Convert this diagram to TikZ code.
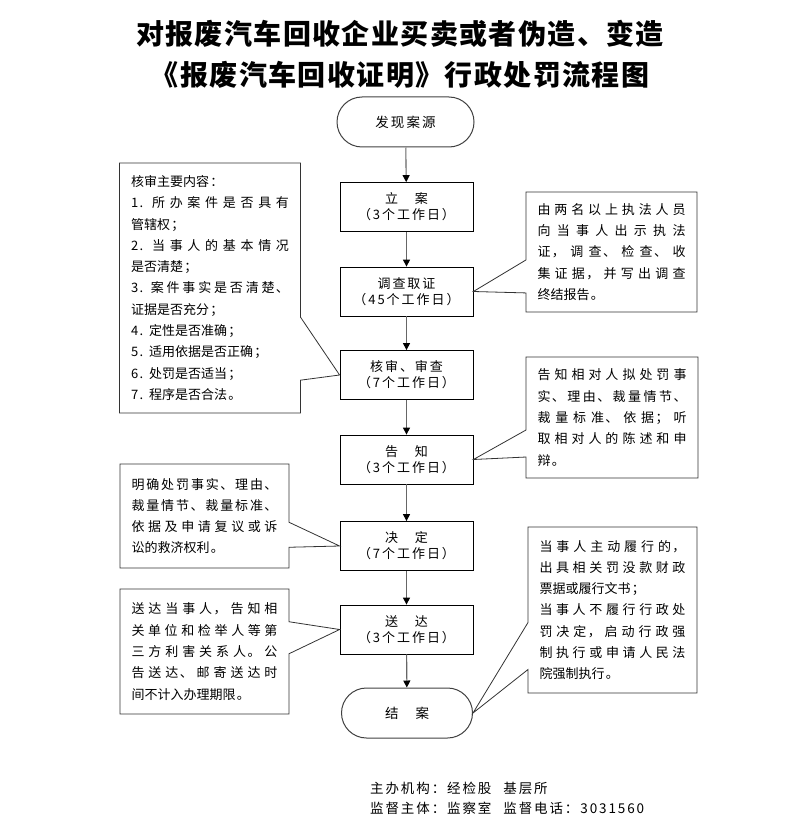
\documentclass[tikz,border=0pt]{standalone}
\usepackage{fontspec}
\setmainfont{Noto Sans CJK SC}
\newfontfamily\cjk[LetterSpace=11]{Noto Sans CJK SC}
\newfontfamily\stepfont[LetterSpace=15]{Noto Sans CJK SC}
\newfontfamily\footfont[LetterSpace=14]{Noto Sans CJK SC}
\newfontfamily\titlefont[LetterSpace=5]{Noto Sans CJK SC}
\usetikzlibrary{arrows.meta,shapes.misc,shapes.callouts}
\XeTeXlinebreaklocale "zh"
\XeTeXlinebreakskip=0pt plus 10pt\relax
\newcommand\titlestyle{\titlefont\bfseries\fontsize{28}{41}\selectfont}
\newcommand\stepstyle{\stepfont\fontsize{13}{16}\selectfont}
\newcommand\termstyle{\stepfont\fontsize{13.5}{16}\selectfont}
\newcommand\notestyle{\cjk\fontsize{13}{21.3}\selectfont}
\newcommand\footstyle{\footfont\fontsize{13.5}{20}\selectfont}

\begin{document}
\begin{tikzpicture}[x=1pt,y=-1pt,
  stepbox/.style={draw=black,line width=0.8pt,minimum width=133pt,minimum height=49pt,inner sep=0pt,align=center,font=\stepstyle},
  endbox/.style={rounded rectangle,draw=black!75,line width=1pt,minimum height=50pt,inner sep=0pt,font=\termstyle},
  notebox/.style={rectangle callout,draw=black!80,line width=0.8pt,align=justify,inner xsep=11.5pt,inner ysep=0pt,font=\notestyle},
  flow/.style={draw=black!60,line width=1.1pt,-{Triangle[black,width=7pt,length=7pt]}}]
  \useasboundingbox (0,0) rectangle (793,837);

  % title
  \node[align=center,font=\titlestyle] (title) at (400,54.5)
    {对报废汽车回收企业买卖或者伪造、变造\\《报废汽车回收证明》行政处罚流程图};

  % main steps
  \node[endbox,minimum width=137pt] (find) at (405.5,122) {发现案源};
  \node[stepbox] (filing) at (406.5,207) {立\hspace{17pt}案\\（3个工作日）};
  \node[stepbox] (invest) at (406.5,291.5) {调查取证\\（45个工作日）};
  \node[stepbox] (review) at (406.5,375) {核审、审查\\（7个工作日）};
  \node[stepbox] (notice) at (406.5,459.5) {告\hspace{17pt}知\\（3个工作日）};
  \node[stepbox] (decide) at (406.5,546) {决\hspace{17pt}定\\（7个工作日）};
  \node[stepbox] (serve) at (406.5,629.5) {送\hspace{17pt}达\\（3个工作日）};
  \node[endbox,minimum width=131pt] (close) at (407,713) {结\hspace{17pt}案};

  \draw[flow] (find) -- (filing);
  \draw[flow] (filing) -- (invest);
  \draw[flow] (invest) -- (review);
  \draw[flow] (review) -- (notice);
  \draw[flow] (notice) -- (decide);
  \draw[flow] (decide) -- (serve);
  \draw[flow] (serve) -- (close);

  % notes
  \node[notebox,text width=158pt,minimum height=250pt,callout absolute pointer={(review.west)},callout pointer width=63pt] (checknote) at (210,288)
    {核审主要内容：\\
     1. 所办案件是否具有\linebreak 管辖权；\\
     2. 当事人的基本情况\linebreak 是否清楚；\\
     3. 案件事实是否清楚、\linebreak 证据是否充分；\\
     4. 定性是否准确；\\
     5. 适用依据是否正确；\\
     6. 处罚是否适当；\\
     7. 程序是否合法。};
  \node[notebox,text width=148pt,minimum height=120pt,callout absolute pointer={(invest.east)},callout pointer width=33pt] (investnote) at (611.5,252)
    {由两名以上执法人员\linebreak 向当事人出示执法\linebreak 证，调查、检查、收\linebreak 集证据，并写出调查\linebreak 终结报告。};
  \node[notebox,text width=149pt,minimum height=121pt,callout absolute pointer={(notice.east)},callout pointer width=27pt] (noticenote) at (612,417.5)
    {告知相对人拟处罚事\linebreak 实、理由、裁量情节、\linebreak 裁量标准、依据；听\linebreak 取相对人的陈述和申\linebreak 辩。};
  \node[notebox,text width=146pt,minimum height=104pt,callout absolute pointer={(decide.west)},callout pointer width=25pt] (decidenote) at (204.5,516)
    {明确处罚事实、理由、\linebreak 裁量情节、裁量标准、\linebreak 依据及申请复议或诉\linebreak 讼的救济权利。};
  \node[notebox,text width=146pt,minimum height=125pt,callout absolute pointer={(serve.west)},callout pointer width=32pt] (servenote) at (204.5,651.5)
    {送达当事人，告知相\linebreak 关单位和检举人等第\linebreak 三方利害关系人。公\linebreak 告送达、邮寄送达时\linebreak 间不计入办理期限。};
  \node[notebox,text width=146pt,minimum height=166pt,callout absolute pointer={(close.east)},callout pointer width=47pt] (closenote) at (612.5,610)
    {当事人主动履行的，\linebreak 出具相关罚没款财政\linebreak 票据或履行文书；\\
     当事人不履行行政处\linebreak 罚决定，启动行政强\linebreak 制执行或申请人民法\linebreak 院强制执行。};

  % footer
  \node[anchor=west,align=left,inner sep=0pt,font=\footstyle] (footer) at (370,798)
    {主办机构：经检股\hspace{12pt}基层所\\监督主体：监察室\hspace{12pt}监督电话：3031560};
\end{tikzpicture}
\end{document}
